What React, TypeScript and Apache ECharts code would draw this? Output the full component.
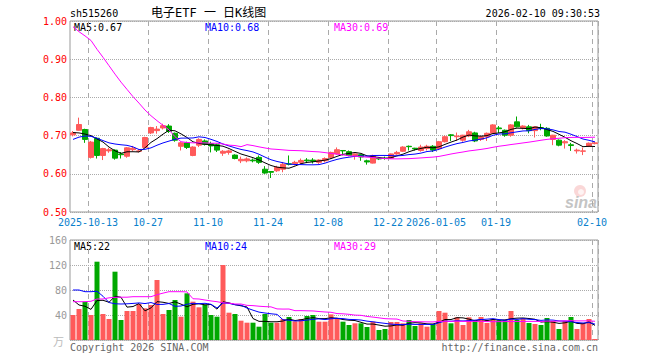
import React, { useEffect, useRef } from "react";
import * as echarts from "echarts";

const dates: string[] = [
  "2025-09-30", "2025-10-09", "2025-10-10", "2025-10-13", "2025-10-14", "2025-10-15", "2025-10-16", "2025-10-17",
  "2025-10-20", "2025-10-21", "2025-10-22", "2025-10-23", "2025-10-24", "2025-10-27", "2025-10-28", "2025-10-29",
  "2025-10-30", "2025-10-31", "2025-11-03", "2025-11-04", "2025-11-05", "2025-11-06", "2025-11-07", "2025-11-10",
  "2025-11-11", "2025-11-12", "2025-11-13", "2025-11-14", "2025-11-17", "2025-11-18", "2025-11-19", "2025-11-20",
  "2025-11-21", "2025-11-24", "2025-11-25", "2025-11-26", "2025-11-27", "2025-11-28", "2025-12-01", "2025-12-02",
  "2025-12-03", "2025-12-04", "2025-12-05", "2025-12-08", "2025-12-09", "2025-12-10", "2025-12-11", "2025-12-12",
  "2025-12-15", "2025-12-16", "2025-12-17", "2025-12-18", "2025-12-19", "2025-12-22", "2025-12-23", "2025-12-24",
  "2025-12-25", "2025-12-26", "2025-12-29", "2025-12-30", "2025-12-31", "2026-01-05", "2026-01-06", "2026-01-07",
  "2026-01-08", "2026-01-09", "2026-01-12", "2026-01-13", "2026-01-14", "2026-01-15", "2026-01-16", "2026-01-19",
  "2026-01-20", "2026-01-21", "2026-01-22", "2026-01-23", "2026-01-26", "2026-01-27", "2026-01-28", "2026-01-29",
  "2026-01-30", "2026-02-02", "2026-02-03", "2026-02-04", "2026-02-05", "2026-02-06", "2026-02-09", "2026-02-10",
];

const tickDates: string[] = ["2025-10-13", "2025-10-27", "2025-11-10", "2025-11-24", "2025-12-08", "2025-12-22", "2026-01-05", "2026-01-19", "2026-02-10"];
const tickTexts: string[] = ["2025-10-13", "10-27", "11-10", "11-24", "12-08", "12-22", "2026-01-05", "01-19", "02-10"];

const opens: number[] = [
  0.702, 0.714, 0.716, 0.643, 0.693, 0.648, 0.660, 0.662, 0.652, 0.646, 0.663, 0.659, 0.669, 0.707, 0.713, 0.720,
  0.725, 0.706, 0.672, 0.681, 0.648, 0.675, 0.686, 0.679, 0.676, 0.654, 0.656, 0.649, 0.634, 0.634, 0.636, 0.643,
  0.612, 0.606, 0.608, 0.612, 0.626, 0.626, 0.630, 0.636, 0.636, 0.630, 0.634, 0.643, 0.652, 0.661, 0.658, 0.648,
  0.650, 0.634, 0.628, 0.640, 0.641, 0.641, 0.652, 0.659, 0.672, 0.667, 0.661, 0.666, 0.672, 0.666, 0.684, 0.702,
  0.697, 0.688, 0.699, 0.707, 0.690, 0.697, 0.706, 0.720, 0.714, 0.701, 0.736, 0.720, 0.723, 0.713, 0.721, 0.719,
  0.690, 0.688, 0.681, 0.676, 0.660, 0.659, 0.672, 0.679,
];
const closes: number[] = [
  0.707, 0.729, 0.690, 0.683, 0.648, 0.666, 0.663, 0.641, 0.650, 0.668, 0.667, 0.660, 0.695, 0.721, 0.717, 0.726,
  0.711, 0.688, 0.681, 0.669, 0.670, 0.690, 0.677, 0.673, 0.662, 0.659, 0.660, 0.640, 0.638, 0.639, 0.634, 0.630,
  0.602, 0.604, 0.617, 0.625, 0.625, 0.630, 0.635, 0.634, 0.633, 0.636, 0.640, 0.656, 0.663, 0.660, 0.648, 0.652,
  0.644, 0.631, 0.648, 0.639, 0.640, 0.652, 0.656, 0.670, 0.671, 0.665, 0.670, 0.672, 0.662, 0.684, 0.697, 0.700,
  0.699, 0.701, 0.710, 0.686, 0.697, 0.706, 0.728, 0.718, 0.701, 0.728, 0.723, 0.725, 0.713, 0.723, 0.719, 0.699,
  0.701, 0.675, 0.684, 0.674, 0.662, 0.660, 0.680, 0.681,
];
const lows: number[] = [
  0.698, 0.713, 0.681, 0.640, 0.640, 0.636, 0.655, 0.637, 0.640, 0.642, 0.659, 0.656, 0.667, 0.704, 0.705, 0.716,
  0.707, 0.684, 0.661, 0.665, 0.646, 0.670, 0.674, 0.656, 0.657, 0.647, 0.650, 0.638, 0.628, 0.630, 0.630, 0.626,
  0.600, 0.589, 0.605, 0.604, 0.622, 0.622, 0.625, 0.628, 0.627, 0.626, 0.630, 0.639, 0.650, 0.648, 0.646, 0.637,
  0.634, 0.624, 0.627, 0.636, 0.637, 0.639, 0.650, 0.657, 0.661, 0.661, 0.658, 0.661, 0.657, 0.662, 0.682, 0.686,
  0.686, 0.684, 0.696, 0.683, 0.686, 0.686, 0.704, 0.707, 0.697, 0.697, 0.721, 0.716, 0.706, 0.695, 0.714, 0.697,
  0.675, 0.672, 0.666, 0.660, 0.653, 0.649, 0.670, 0.677,
];
const highs: number[] = [
  0.712, 0.747, 0.718, 0.686, 0.695, 0.668, 0.668, 0.664, 0.657, 0.670, 0.673, 0.665, 0.697, 0.723, 0.725, 0.731,
  0.730, 0.708, 0.684, 0.684, 0.672, 0.693, 0.690, 0.684, 0.679, 0.662, 0.663, 0.651, 0.645, 0.643, 0.640, 0.648,
  0.620, 0.607, 0.621, 0.631, 0.648, 0.634, 0.640, 0.641, 0.641, 0.638, 0.643, 0.658, 0.669, 0.662, 0.661, 0.653,
  0.651, 0.637, 0.650, 0.644, 0.645, 0.653, 0.660, 0.672, 0.674, 0.668, 0.676, 0.676, 0.675, 0.686, 0.700, 0.704,
  0.708, 0.702, 0.715, 0.710, 0.699, 0.708, 0.730, 0.725, 0.716, 0.730, 0.750, 0.727, 0.728, 0.724, 0.731, 0.722,
  0.702, 0.690, 0.688, 0.681, 0.666, 0.669, 0.682, 0.684,
];
const volumes: number[] = [
  40, 49.6, 61.3, 40, 125.3, 41.6, 33.6, 109.3, 32, 46.4, 46.4, 57.6, 50.7, 56, 96, 41.6,
  48, 64, 37.3, 74.7, 61.3, 52.3, 56, 40, 37.3, 120, 43.7, 41.6, 30.9, 27.7, 27.7, 21.3,
  41.6, 27.7, 27.7, 33.6, 36.8, 29.9, 33.6, 38.4, 40, 29.3, 29.3, 41, 34.7, 29.3, 24, 26.7,
  26.7, 20.8, 29.3, 16, 17.6, 28.8, 28.8, 26.7, 32, 22.4, 26.7, 21.3, 25.6, 46.4, 43.7, 26.7,
  36.3, 24, 36.3, 30.4, 36.8, 27.2, 33.6, 31.5, 31.5, 46.4, 32, 34.7, 27.2, 25.6, 24, 35.2,
  30.4, 17.6, 30.4, 36.8, 17.6, 27.2, 33.6, 1.6,
];

// moving-average values before the window is complete
const priceMa5Lead: number[] = [0.708, 0.707, 0.704, 0.7];
const priceMa10Lead: number[] = [0.69, 0.696, 0.699, 0.698, 0.693, 0.687, 0.681, 0.678, 0.676];
const priceMa30Lead: number[] = [
  0.985, 0.972, 0.961, 0.949, 0.926, 0.905, 0.883, 0.861, 0.84, 0.821, 0.802, 0.785, 0.767, 0.752, 0.739,
  0.727, 0.715, 0.697, 0.684, 0.682, 0.681, 0.681, 0.681, 0.68, 0.68, 0.678, 0.675, 0.674, 0.671,
];
const volMa5Lead: number[] = [64, 56, 54, 49];
const volMa10Lead: number[] = [80, 80, 77.3, 77.3, 78, 70, 60, 58, 57.6];
const volMa30Lead: number[] = [
  61.3, 61.3, 61.3, 62, 65.6, 65.6, 67.5, 68.3, 68.5, 68.5, 69.3, 69.3, 69.3, 69.3, 72.5,
  75, 77.3, 77.3, 77.3, 77, 66, 65.6, 64, 62.5, 61.3, 59.5, 59, 57.6, 57.6,
];

const priceLegend: string[] = ["MA5:0.67", "MA10:0.68", "MA30:0.69"];
const volLegend: string[] = ["MA5:22", "MA10:24", "MA30:29"];

function movingAvg(src: number[], n: number, lead: number[]): number[] {
  return src.map((_, i) => {
    if (i < n - 1) return lead[i];
    let s = 0;
    for (let k = i - n + 1; k <= i; k++) s += src[k];
    return +(s / n).toFixed(4);
  });
}

const MONO = '"DejaVu Sans Mono", "Liberation Mono", monospace';
const UP = "#ff5a5a";
const DOWN = "#00a800";
const MA_COLORS = ["#000000", "#0000ff", "#ff00ff"];

export default function App() {
  const ref = useRef<HTMLDivElement>(null);
  useEffect(() => {
    document.body.style.margin = "0";
    if (!ref.current) return;
    const chart = echarts.init(ref.current, undefined, { renderer: "svg" });
    const tickSet = new Set(tickDates.map((d) => dates.indexOf(d)));
    const labelOf: Record<string, string> = {};
    tickDates.forEach((d, k) => (labelOf[d] = tickTexts[k]));

    const pMa = [movingAvg(closes, 5, priceMa5Lead), movingAvg(closes, 10, priceMa10Lead), movingAvg(closes, 30, priceMa30Lead)];
    const vMa = [movingAvg(volumes, 5, volMa5Lead), movingAvg(volumes, 10, volMa10Lead), movingAvg(volumes, 30, volMa30Lead)];

    const xBase = (gridIndex: number, showLabel: boolean) => ({
      type: "category",
      gridIndex,
      data: dates,
      boundaryGap: true,
      axisLine: { show: false },
      axisTick: { show: false },
      axisLabel: {
        show: showLabel,
        interval: (i: number) => tickSet.has(i),
        formatter: (v: string) => labelOf[v] || "",
        color: "#0a7fcc",
        fontFamily: MONO,
        fontSize: 10,
        margin: 5,
        padding: [0, 6, 0, 0],
      },
      splitLine: {
        show: true,
        interval: (i: number) => tickSet.has(i),
        lineStyle: { color: "#aaaaaa", type: [5, 4], width: 1 },
      },
    });

    const lineSeries = (data: number[], color: string, xi: number) => ({
      type: "line",
      xAxisIndex: xi,
      yAxisIndex: xi,
      data,
      symbol: "none",
      silent: true,
      lineStyle: { color, width: 1 },
      z: 5,
    });

    const txt = (text: string, x: number, y: number, fill: string, align = "left", font = `10px ${MONO}`) => ({
      type: "text",
      x,
      y,
      silent: true,
      style: { text, fill, font, align, verticalAlign: "middle", textAlign: align, textVerticalAlign: "middle" },
    });

    chart.setOption({
      animation: false,
      grid: [
        { left: 70, top: 21, width: 528, height: 191, show: true, borderColor: "#999999", borderWidth: 1 },
        { left: 70, top: 240, width: 528, height: 100, show: true, borderColor: "#999999", borderWidth: 1 },
      ],
      xAxis: [xBase(0, true), xBase(1, false)],
      yAxis: [
        {
          type: "value",
          gridIndex: 0,
          min: 0.5,
          max: 1.0,
          interval: 0.1,
          axisLine: { show: false },
          axisTick: { show: false },
          axisLabel: { color: "#ff0000", fontFamily: MONO, fontSize: 10, margin: 3, formatter: (v: number) => v.toFixed(2) },
          splitLine: { lineStyle: { color: "#aaaaaa", type: "dotted", width: 1 } },
        },
        {
          type: "value",
          gridIndex: 1,
          min: 0,
          max: 160,
          interval: 40,
          axisLine: { show: false },
          axisTick: { show: false },
          axisLabel: { color: "#999999", fontFamily: MONO, fontSize: 10, margin: 3, formatter: (v: number) => (v === 0 ? "" : String(v)) },
          splitLine: { lineStyle: { color: "#aaaaaa", type: "dotted", width: 1 } },
        },
      ],
      series: [
        {
          type: "candlestick",
          xAxisIndex: 0,
          yAxisIndex: 0,
          barWidth: 5,
          silent: true,
          data: dates.map((_, i) => [opens[i], closes[i], lows[i], highs[i]]),
          itemStyle: { color: UP, color0: DOWN, borderColor: UP, borderColor0: DOWN, borderWidth: 1 },
          z: 3,
        },
        ...pMa.map((d, k) => lineSeries(d, MA_COLORS[k], 0)),
        {
          type: "bar",
          xAxisIndex: 1,
          yAxisIndex: 1,
          barWidth: 5,
          silent: true,
          data: volumes.map((v, i) => ({ value: v, itemStyle: { color: closes[i] > opens[i] ? UP : DOWN } })),
          z: 3,
        },
        ...vMa.map((d, k) => lineSeries(d, MA_COLORS[k], 1)),
      ],
      graphic: [
        txt("sh515260", 70, 13, "#000000"),
        txt("电子ETF 一 日K线图", 151, 13, "#000000", "left", '12px "DejaVu Sans Mono", "Noto Sans CJK SC", sans-serif'),
        txt("2026-02-10 09:30:53", 600, 13, "#000000", "right"),
        txt(priceLegend[0], 74, 27, MA_COLORS[0]),
        txt(priceLegend[1], 205, 27, MA_COLORS[1]),
        txt(priceLegend[2], 334, 27, MA_COLORS[2]),
        txt(volLegend[0], 74, 246, MA_COLORS[0]),
        txt(volLegend[1], 205, 246, MA_COLORS[1]),
        txt(volLegend[2], 334, 246, MA_COLORS[2]),
        txt("Copyright 2026 SINA.COM", 70, 347, "#666666"),
        txt("http://finance.sina.com.cn", 598, 347, "#666666", "right"),
        txt("万", 64, 341, "#bbbbbb", "right", '11px "Noto Sans CJK SC", sans-serif'),
        {
          type: "circle",
          silent: true,
          shape: { cx: 580, cy: 191, r: 6 },
          style: { fill: "rgba(240,140,140,0.35)" },
        },
        {
          type: "circle",
          silent: true,
          shape: { cx: 581, cy: 192, r: 3 },
          style: { fill: "rgba(255,255,255,0.7)" },
        },
        txt("sina", 581, 202, "#c4c4c4", "center", 'italic bold 16px "Liberation Sans", sans-serif'),
      ],
    });
    return () => chart.dispose();
  }, []);
  return <div ref={ref} style={{ width: 660, height: 360 }} />;
}
